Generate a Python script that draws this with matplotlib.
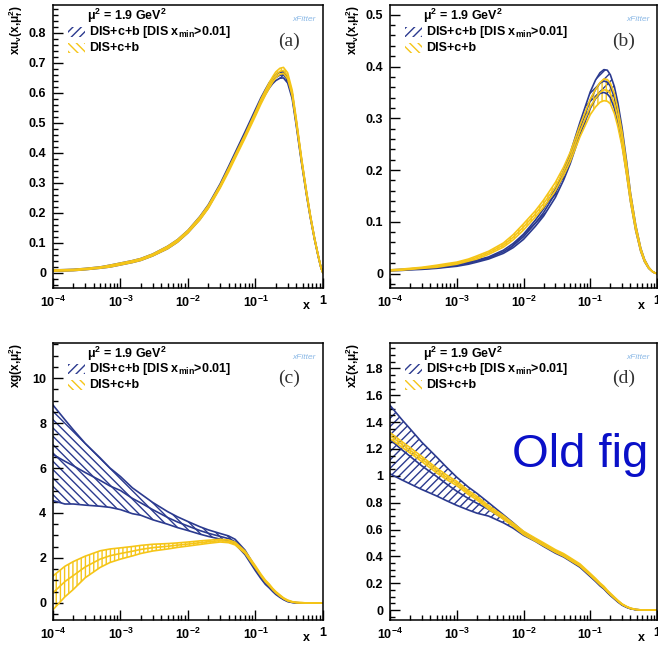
import matplotlib
matplotlib.use("Agg")
import matplotlib.pyplot as plt
import numpy as np
from matplotlib.patches import Rectangle
from matplotlib.ticker import AutoMinorLocator, FuncFormatter, LogLocator, NullFormatter

plt.rcParams['font.family'] = ['Liberation Sans', 'DejaVu Sans']
plt.rcParams['font.weight'] = 'bold'
plt.rcParams['mathtext.fontset'] = 'custom'
plt.rcParams['mathtext.rm'] = 'Liberation Sans:bold'
plt.rcParams['mathtext.it'] = 'Liberation Sans:bold'
plt.rcParams['mathtext.bf'] = 'Liberation Sans:bold'
plt.rcParams['mathtext.default'] = 'rm'
plt.rcParams['hatch.linewidth'] = 1.0

BLUE = '#2b3a8f'
YELLOW = '#f5c518'

# common x grid
x = [1e-4, 1.5e-4, 2e-4, 3e-4, 5e-4, 7e-4, 1e-3, 1.5e-3, 2e-3, 3e-3, 5e-3, 7e-3,
     1e-2, 1.5e-2, 2e-2, 3e-2, 4e-2, 5e-2, 0.07, 0.1, 0.12, 0.14, 0.16, 0.18,
     0.2, 0.23, 0.26, 0.3, 0.35, 0.4, 0.48, 0.57, 0.65, 0.75, 0.85, 0.93, 1.0]

# (a) xu_v
uv_blue = [0.008, 0.009, 0.010, 0.013, 0.018, 0.023, 0.030, 0.038, 0.045, 0.060, 0.085, 0.107,
           0.138, 0.183, 0.222, 0.292, 0.349, 0.395, 0.464, 0.538, 0.575, 0.603, 0.625, 0.640,
           0.651, 0.659, 0.660, 0.643, 0.590, 0.503, 0.375, 0.265, 0.188, 0.114, 0.057, 0.020, 0.0]
uv_yel = [0.008, 0.009, 0.010, 0.013, 0.018, 0.023, 0.030, 0.038, 0.045, 0.060, 0.085, 0.107,
          0.138, 0.182, 0.220, 0.288, 0.343, 0.388, 0.455, 0.530, 0.570, 0.600, 0.625, 0.645,
          0.660, 0.672, 0.675, 0.657, 0.600, 0.510, 0.380, 0.268, 0.190, 0.115, 0.058, 0.020, 0.0]
uv_err = [0.002, 0.002, 0.002, 0.002, 0.002, 0.003, 0.003, 0.003, 0.003, 0.003, 0.004, 0.004,
          0.004, 0.005, 0.005, 0.005, 0.006, 0.006, 0.006, 0.007, 0.008, 0.008, 0.009, 0.009,
          0.010, 0.010, 0.010, 0.010, 0.009, 0.008, 0.006, 0.005, 0.004, 0.003, 0.002, 0.001, 0.0]

# (b) xd_v
dv_blue = [0.006, 0.007, 0.008, 0.009, 0.011, 0.013, 0.016, 0.020, 0.024, 0.030, 0.042, 0.054,
           0.071, 0.097, 0.118, 0.155, 0.190, 0.222, 0.280, 0.335, 0.356, 0.368, 0.372, 0.370,
           0.362, 0.340, 0.310, 0.265, 0.205, 0.148, 0.088, 0.046, 0.025, 0.011, 0.004, 0.001, 0.0]
dv_blue_err = [0.001, 0.001, 0.001, 0.001, 0.001, 0.001, 0.002, 0.002, 0.002, 0.002, 0.003, 0.004,
               0.005, 0.006, 0.007, 0.008, 0.009, 0.010, 0.012, 0.016, 0.018, 0.020, 0.022, 0.023,
               0.022, 0.021, 0.019, 0.016, 0.012, 0.008, 0.005, 0.003, 0.002, 0.001, 0.0, 0.0, 0.0]
dv_yel = [0.006, 0.0075, 0.009, 0.011, 0.014, 0.017, 0.020, 0.026, 0.031, 0.040, 0.055, 0.070,
          0.090, 0.115, 0.135, 0.168, 0.198, 0.225, 0.275, 0.322, 0.339, 0.350, 0.355, 0.354,
          0.348, 0.328, 0.300, 0.259, 0.202, 0.147, 0.088, 0.046, 0.025, 0.011, 0.004, 0.001, 0.0]
dv_yel_err = [0.001, 0.001, 0.001, 0.001, 0.002, 0.002, 0.002, 0.002, 0.003, 0.003, 0.004, 0.005,
              0.006, 0.006, 0.007, 0.008, 0.008, 0.009, 0.011, 0.015, 0.017, 0.019, 0.021, 0.021,
              0.020, 0.019, 0.017, 0.014, 0.011, 0.008, 0.005, 0.003, 0.002, 0.001, 0.0, 0.0, 0.0]

# (c) xg
g_blue = [6.60, 6.30, 6.10, 5.80, 5.45, 5.20, 5.00, 4.65, 4.45, 4.15, 3.80, 3.60,
          3.42, 3.22, 3.10, 2.96, 2.86, 2.72, 2.25, 1.50, 1.15, 0.88, 0.72, 0.55,
          0.42, 0.28, 0.17, 0.08, 0.03, 0.01, 0.0, 0.0, 0.0, 0.0, 0.0, 0.0, 0.0]
g_blue_up = [2.20, 1.85, 1.60, 1.30, 1.00, 0.80, 0.62, 0.47, 0.40, 0.32, 0.26, 0.23,
             0.20, 0.17, 0.15, 0.13, 0.12, 0.11, 0.10, 0.08, 0.07, 0.06, 0.05, 0.04,
             0.04, 0.03, 0.02, 0.02, 0.01, 0.01, 0.0, 0.0, 0.0, 0.0, 0.0, 0.0, 0.0]
g_blue_dn = [2.05, 1.90, 1.70, 1.45, 1.15, 0.95, 0.85, 0.68, 0.55, 0.45, 0.30, 0.25,
             0.20, 0.16, 0.14, 0.12, 0.10, 0.10, 0.10, 0.07, 0.06, 0.05, 0.05, 0.04,
             0.04, 0.03, 0.02, 0.02, 0.01, 0.01, 0.0, 0.0, 0.0, 0.0, 0.0, 0.0, 0.0]
g_yel = [0.45, 0.95, 1.22, 1.60, 1.95, 2.10, 2.20, 2.30, 2.38, 2.46, 2.52, 2.57,
         2.62, 2.68, 2.72, 2.77, 2.74, 2.64, 2.26, 1.60, 1.25, 0.98, 0.80, 0.62,
         0.48, 0.33, 0.21, 0.11, 0.05, 0.02, 0.01, 0.0, 0.0, 0.0, 0.0, 0.0, 0.0]
g_yel_err = [0.75, 0.68, 0.62, 0.48, 0.37, 0.30, 0.25, 0.21, 0.18, 0.15, 0.12, 0.10,
             0.09, 0.08, 0.07, 0.06, 0.06, 0.06, 0.05, 0.05, 0.04, 0.04, 0.04, 0.03,
             0.03, 0.03, 0.02, 0.02, 0.01, 0.01, 0.01, 0.0, 0.0, 0.0, 0.0, 0.0, 0.0]

# (d) xSigma
s_blue = [1.270, 1.195, 1.145, 1.074, 0.995, 0.940, 0.885, 0.830, 0.796, 0.750, 0.680, 0.630,
          0.570, 0.520, 0.482, 0.432, 0.402, 0.372, 0.326, 0.255, 0.219, 0.186, 0.162, 0.135,
          0.113, 0.086, 0.063, 0.039, 0.022, 0.011, 0.003, 0.001, 0.0, 0.0, 0.0, 0.0, 0.0]
s_blue_err = [0.255, 0.225, 0.205, 0.176, 0.145, 0.125, 0.105, 0.085, 0.074, 0.050, 0.030, 0.020,
              0.013, 0.008, 0.008, 0.008, 0.007, 0.007, 0.007, 0.006, 0.006, 0.006, 0.005, 0.005,
              0.005, 0.004, 0.004, 0.003, 0.002, 0.001, 0.001, 0.0, 0.0, 0.0, 0.0, 0.0, 0.0]
s_yel = [1.300, 1.235, 1.190, 1.125, 1.040, 0.990, 0.943, 0.875, 0.835, 0.765, 0.690, 0.635,
         0.575, 0.525, 0.490, 0.440, 0.410, 0.380, 0.335, 0.265, 0.228, 0.195, 0.170, 0.142,
         0.120, 0.092, 0.068, 0.043, 0.025, 0.013, 0.004, 0.001, 0.0, 0.0, 0.0, 0.0, 0.0]
s_yel_err = [0.022, 0.021, 0.020, 0.019, 0.018, 0.017, 0.016, 0.015, 0.014, 0.013, 0.013, 0.012,
             0.012, 0.011, 0.011, 0.010, 0.010, 0.010, 0.009, 0.008, 0.008, 0.007, 0.007, 0.006,
             0.006, 0.005, 0.004, 0.003, 0.002, 0.002, 0.001, 0.0, 0.0, 0.0, 0.0, 0.0, 0.0]

ylabels = [r'xu$_{v}$(x,$\mu^{2}_{f}$)', r'xd$_{v}$(x,$\mu^{2}_{f}$)',
           r'xg(x,$\mu^{2}_{f}$)', r'x$\Sigma$(x,$\mu^{2}_{f}$)']
tags = ['(a)', '(b)', '(c)', '(d)']
leg_labels = [r'DIS+c+b [DIS x$_{min}$>0.01]', 'DIS+c+b']


def band(ax, c, lo, hi, color, hatch):
    ax.fill_between(x, lo, hi, facecolor='none', edgecolor=color, hatch=hatch, linewidth=0)
    for y in (lo, hi, c):
        ax.plot(x, y, color=color, lw=1.2)


def style(ax, ylim, major, nminor, ylabel, tag):
    ax.set_xscale('log')
    ax.set_xlim(1e-4, 1)
    ax.set_ylim(*ylim)
    ax.yaxis.set_major_locator(plt.MultipleLocator(major))
    ax.yaxis.set_minor_locator(AutoMinorLocator(nminor))
    ax.yaxis.set_major_formatter(FuncFormatter(lambda v, p: '%g' % round(v, 3)))
    ax.xaxis.set_major_locator(LogLocator(base=10, numticks=10))
    ax.xaxis.set_minor_locator(LogLocator(base=10, subs=np.arange(2, 10), numticks=20))
    ax.xaxis.set_minor_formatter(NullFormatter())
    ax.xaxis.set_major_formatter(FuncFormatter(
        lambda v, p: '1' if v > 0.5 else r'10$^{%d}$' % round(np.log10(v))))
    ax.tick_params(which='both', direction='in', top=False, right=False,
                   labelsize=9, width=1)
    ax.tick_params(which='major', length=7, pad=5)
    ax.tick_params(which='minor', length=3.5)
    for s in ax.spines.values():
        s.set_linewidth(1.1)
    ax.text(-0.14, 1.0, ylabel, transform=ax.transAxes, rotation=90,
            ha='center', va='top', fontsize=8.5)
    ax.text(0.94, -0.065, 'x', transform=ax.transAxes, ha='center', va='center', fontsize=9)
    ax.text(0.875, 0.872, tag, transform=ax.transAxes, ha='center', va='center',
            fontsize=14, family='Liberation Serif', weight='normal', color='#333333')
    ax.text(0.93, 0.948, 'xFitter', transform=ax.transAxes, ha='center', va='center',
            fontsize=6, style='italic', weight='normal', color='#8ab8e6')
    # legend
    ax.text(0.125, 0.962, r'$\mu^{2}$ = 1.9 GeV$^{2}$', transform=ax.transAxes,
            ha='left', va='center', fontsize=9)
    for i, (col, h) in enumerate([(BLUE, '////'), (YELLOW, '\\\\\\\\')]):
        yy = 0.905 - i * 0.057
        ax.add_patch(Rectangle((0.055, yy - 0.018), 0.065, 0.036, transform=ax.transAxes,
                               facecolor='none', edgecolor=col, hatch=h, lw=0))
        ax.text(0.135, yy, leg_labels[i], transform=ax.transAxes, ha='left',
                va='center', fontsize=9)


fig = plt.figure(figsize=(6.58, 6.45), dpi=100)
ax_a = fig.add_axes([0.0805, 0.5535, 0.4103, 0.4388])
ax_b = fig.add_axes([0.5927, 0.5535, 0.4058, 0.4388])
ax_c = fig.add_axes([0.0805, 0.0388, 0.4103, 0.4295])
ax_d = fig.add_axes([0.5927, 0.0388, 0.4058, 0.4295])

# (a)
band(ax_a, uv_blue, np.subtract(uv_blue, uv_err), np.add(uv_blue, uv_err), BLUE, '////')
band(ax_a, uv_yel, np.subtract(uv_yel, uv_err), np.add(uv_yel, uv_err), YELLOW, '||||')
style(ax_a, (-0.05, 0.893), 0.1, 5, ylabels[0], tags[0])

# (b)
band(ax_b, dv_blue, np.subtract(dv_blue, dv_blue_err), np.add(dv_blue, dv_blue_err), BLUE, '////')
band(ax_b, dv_yel, np.subtract(dv_yel, dv_yel_err), np.add(dv_yel, dv_yel_err), YELLOW, '||||')
style(ax_b, (-0.028, 0.519), 0.1, 5, ylabels[1], tags[1])

# (c)
band(ax_c, g_blue, np.subtract(g_blue, g_blue_dn), np.add(g_blue, g_blue_up), BLUE, '\\\\\\\\')
band(ax_c, g_yel, np.subtract(g_yel, g_yel_err), np.add(g_yel, g_yel_err), YELLOW, '||||')
style(ax_c, (-0.756, 11.56), 2, 4, ylabels[2], tags[2])

# (d)
band(ax_d, s_blue, np.subtract(s_blue, s_blue_err), np.add(s_blue, s_blue_err), BLUE, '////')
band(ax_d, s_yel, np.subtract(s_yel, s_yel_err), np.add(s_yel, s_yel_err), YELLOW, '||||')
style(ax_d, (-0.074, 1.99), 0.2, 4, ylabels[3], tags[3])

fig.text(0.778, 0.295, 'Old fig', color='#0a10c8', fontsize=34, weight='normal',
         ha='left', va='center')

fig.savefig('out.png', dpi=100)
